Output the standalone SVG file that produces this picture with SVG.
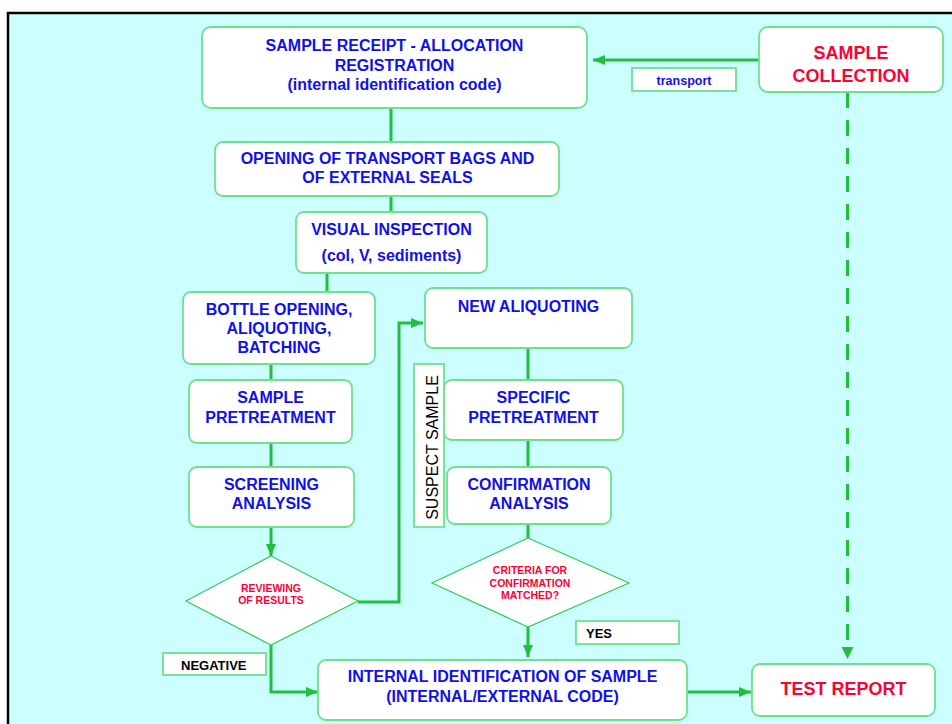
<svg xmlns="http://www.w3.org/2000/svg" width="952" height="724" viewBox="0 0 952 724">
<style>
text{font-family:"Liberation Sans",Arial,sans-serif;text-anchor:middle}
.box{fill:#fff;stroke:#6ee08e;stroke-width:1.8}
.dia{fill:#fff;stroke:#33cc55;stroke-width:1.2}
.lbl{fill:#fff;stroke:#6ee08e;stroke-width:1.8}
.t{font-size:16px;font-weight:bold;fill:#1010ee}
.r{font-weight:bold;fill:#ff0033}
.k{font-size:13px;font-weight:bold;fill:#000;text-anchor:start}
.c{fill:none;stroke:#1ec03c;stroke-width:3}
</style>
<defs>
<marker id="ah" markerUnits="userSpaceOnUse" markerWidth="12" markerHeight="12" viewBox="0 0 12 12" refX="12" refY="6" orient="auto">
<path d="M0,1 L12,6 L0,11 z" fill="#1ec03c"/>
</marker>
</defs>
<rect x="0" y="0" width="952" height="724" fill="#fff"/>
<rect x="8" y="13" width="960" height="730" fill="#ccffff" stroke="#000" stroke-width="2.5"/>

<g id="connectors">
<path class="c" d="M759,60 H593" marker-end="url(#ah)"/>
<path class="c" d="M391,108 V142"/>
<path class="c" d="M391,196 V212"/>
<path class="c" d="M327,273 V292"/>
<path class="c" d="M271,364 V380"/>
<path class="c" d="M271,443 V467"/>
<path class="c" d="M271,527 V556" marker-end="url(#ah)"/>
<path class="c" d="M358,602 H399 V323 H423" marker-end="url(#ah)"/>
<path class="c" d="M528,348 V380"/>
<path class="c" d="M528,440 V467"/>
<path class="c" d="M528,524 V538"/>
<path class="c" d="M528,627 V657" marker-end="url(#ah)"/>
<path class="c" d="M271,645 V692 H318" marker-end="url(#ah)"/>
<path class="c" d="M687,692 H751" marker-end="url(#ah)"/>
<path class="c" d="M847.5,92 V640" stroke-width="4" stroke-dasharray="16 12"/>
<path d="M841.5,647 L853.5,647 L847.5,659 z" fill="#1ec03c"/>
</g>

<g id="sample-receipt">
<rect class="box" x="202" y="27" width="385" height="81" rx="9"/>
<text class="t" x="394.5" y="51">SAMPLE RECEIPT - ALLOCATION</text>
<text class="t" x="394.5" y="71">REGISTRATION</text>
<text class="t" x="394.5" y="90">(internal identification code)</text>
</g>

<g id="sample-collection">
<rect class="box" x="759" y="27" width="184" height="65" rx="9"/>
<text class="r" font-size="18" x="851" y="59">SAMPLE</text>
<text class="r" font-size="18" x="851" y="82">COLLECTION</text>
</g>

<g id="transport-label">
<rect class="lbl" x="632" y="68" width="104" height="23"/>
<text font-size="12.5" font-weight="bold" fill="#1010ee" x="684" y="85">transport</text>
</g>

<g id="opening-bags">
<rect class="box" x="215" y="142" width="344" height="54" rx="8"/>
<text class="t" x="387.5" y="164">OPENING OF TRANSPORT BAGS AND</text>
<text class="t" x="387.5" y="183">OF EXTERNAL SEALS</text>
</g>

<g id="visual-inspection">
<rect class="box" x="296" y="212" width="191" height="61" rx="8"/>
<text class="t" x="391.5" y="235">VISUAL INSPECTION</text>
<text class="t" x="391.5" y="261">(col, V, sediments)</text>
</g>

<g id="bottle-opening">
<rect class="box" x="183" y="292" width="192" height="72" rx="8"/>
<text class="t" x="279" y="315">BOTTLE OPENING,</text>
<text class="t" x="279" y="334">ALIQUOTING,</text>
<text class="t" x="279" y="353">BATCHING</text>
</g>

<g id="sample-pretreatment">
<rect class="box" x="189" y="380" width="163" height="63" rx="8"/>
<text class="t" x="270.5" y="403">SAMPLE</text>
<text class="t" x="270.5" y="423">PRETREATMENT</text>
</g>

<g id="screening-analysis">
<rect class="box" x="189" y="467" width="165" height="60" rx="8"/>
<text class="t" x="271.5" y="490">SCREENING</text>
<text class="t" x="271.5" y="509">ANALYSIS</text>
</g>

<g id="reviewing-results">
<polygon class="dia" points="271,556 358,601 271,645 186,601"/>
<text class="r" font-size="10.5" x="271" y="592">REVIEWING</text>
<text class="r" font-size="10.5" x="271" y="604">OF RESULTS</text>
</g>

<g id="negative-label">
<rect class="lbl" x="163" y="653" width="103" height="22"/>
<text class="k" x="181" y="670">NEGATIVE</text>
</g>

<g id="new-aliquoting">
<rect class="box" x="425" y="288" width="207" height="60" rx="8"/>
<text class="t" x="528.5" y="312">NEW ALIQUOTING</text>
</g>

<g id="suspect-sample">
<rect class="lbl" x="414" y="364" width="30" height="163"/>
<text font-size="16" fill="#000" transform="translate(438,447.5) rotate(-90)">SUSPECT SAMPLE</text>
</g>

<g id="specific-pretreatment">
<rect class="box" x="444" y="380" width="179" height="60" rx="8"/>
<text class="t" x="533.5" y="403">SPECIFIC</text>
<text class="t" x="533.5" y="423">PRETREATMENT</text>
</g>

<g id="confirmation-analysis">
<rect class="box" x="447" y="467" width="164" height="57" rx="8"/>
<text class="t" x="529" y="490">CONFIRMATION</text>
<text class="t" x="529" y="509">ANALYSIS</text>
</g>

<g id="criteria-matched">
<polygon class="dia" points="528,538 629,583 528,627 432,583"/>
<text class="r" font-size="10.5" x="530" y="574">CRITERIA FOR</text>
<text class="r" font-size="10.5" x="530" y="587">CONFIRMATION</text>
<text class="r" font-size="10.5" x="530" y="599">MATCHED?</text>
</g>

<g id="yes-label">
<rect class="lbl" x="576" y="621" width="103" height="23"/>
<text class="k" x="586" y="638">YES</text>
</g>

<g id="internal-identification">
<rect class="box" x="318" y="660" width="369" height="60" rx="8"/>
<text class="t" x="502.5" y="682">INTERNAL IDENTIFICATION OF SAMPLE</text>
<text class="t" x="502.5" y="702">(INTERNAL/EXTERNAL CODE)</text>
</g>

<g id="test-report">
<rect class="box" x="752" y="664" width="183" height="52" rx="8"/>
<text class="r" font-size="18" x="843.5" y="695">TEST REPORT</text>
</g>
</svg>
